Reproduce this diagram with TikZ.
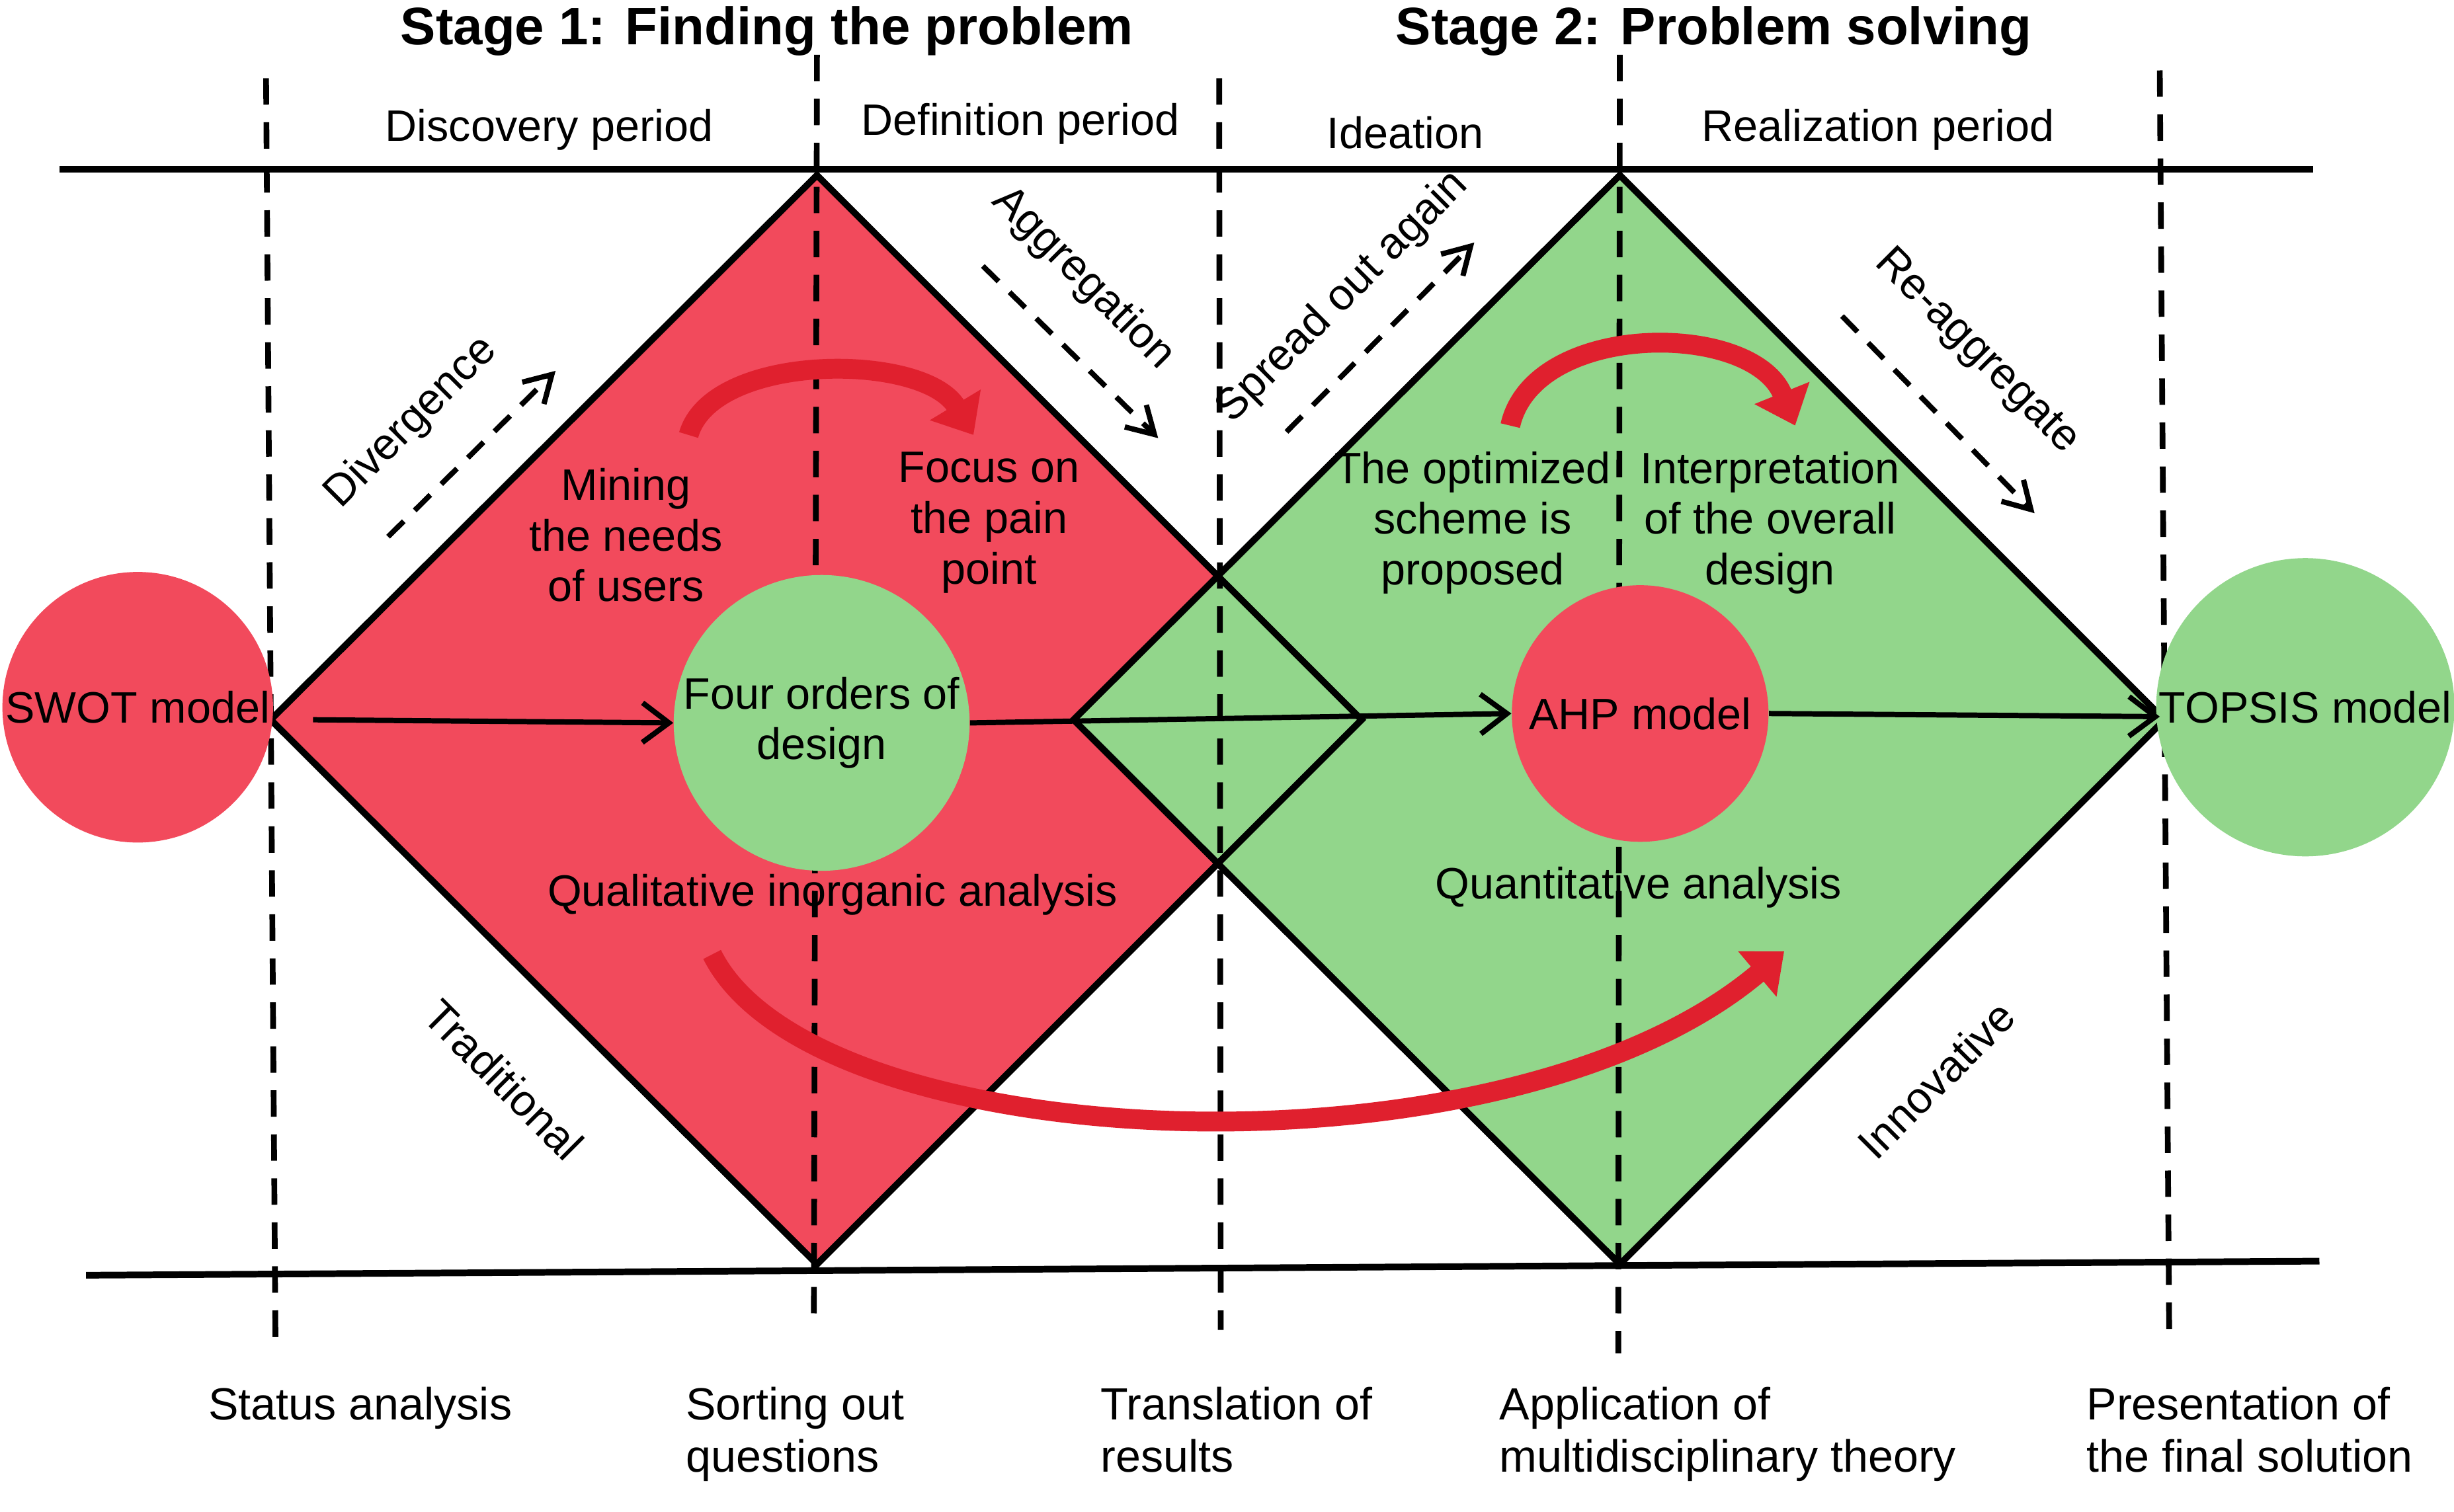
\documentclass[tikz,border=0pt]{standalone}
\usepackage{fontspec}
\setmainfont{Liberation Sans}
\usetikzlibrary{arrows.meta}
\definecolor{rd}{HTML}{F24A5C}
\definecolor{gr}{HTML}{92D68B}
\definecolor{arr}{HTML}{E0202E}
\begin{document}
\begin{tikzpicture}[x=0.025cm,y=-0.025cm,
 txt/.style={font=\fontsize{20}{23}\selectfont,align=center,inner sep=1pt},
 ttl/.style={font=\fontsize{24}{28}\selectfont\bfseries},
 bl/.style={font=\fontsize{20.5}{24}\selectfont,align=left,anchor=north west,inner sep=0pt},
 dv/.style={line width=2.6pt,dash pattern=on 12pt off 8pt},
 da/.style={line width=2.4pt,dash pattern=on 10pt off 7pt,-{Straight Barb[length=12pt,width=14pt]}},
 ar/.style={line width=2.4pt,-{Straight Barb[length=12pt,width=18pt]}},
 ca/.style={arr,line width=9pt,-{Triangle[length=16pt,width=26pt]}},
 circ/.style={circle,txt}]
\useasboundingbox (0,0) rectangle (1568,966);
% diamonds
\fill[rd] (173,460)--(522,112)--(870,460)--(522,808)--cycle;
\fill[gr] (686,460)--(1035,112)--(1383,460)--(1035,808)--cycle;
\draw[line width=3pt] (173,460)--(522,112)--(870,460)--(522,808)--cycle;
\draw[line width=3pt] (686,460)--(1035,112)--(1383,460)--(1035,808)--cycle;
% horizontal lines
\draw[line width=3pt] (38,108)--(1478,108);
\draw[line width=3pt] (55,815)--(1482,806);
% dashed verticals
\draw[dv] (170,50)--(176,855);
\draw[dv] (522,35)--(520,850);
\draw[dv] (779,50)--(780,850);
\draw[dv] (1035,35)--(1034,865);
\draw[dv] (1380,45)--(1386,850);
% circles
\node[circ,fill=rd,minimum size=166*0.025cm] (swot) at (88,452) {SWOT model};
\node[circ,fill=gr,minimum size=164*0.025cm] (four) at (525,462) {Four orders of\\design};
\node[circ,fill=rd,minimum size=164*0.025cm] (ahp) at (1048,456) {AHP model};
\node[circ,fill=gr,minimum size=174*0.025cm] (topsis) at (1473,452) {TOPSIS model};
\coordinate (r) at (1380,458);
\draw[ar] (200,460)--(four.west);
\draw[ar] (four.east)--(ahp.west);
\draw[ar] (ahp.east)--(r);
% titles
\node[ttl] (t1) at (490,20) {Stage 1: Finding the problem};
\node[ttl] (t2) at (1095,20) {Stage 2: Problem solving};
\node[txt] (p1) at (351,83) {Discovery period};
\node[txt] (p2) at (652,79) {Definition period};
\node[txt] (p3) at (898,85) {Ideation};
\node[txt] (p4) at (1200,83) {Realization period};
% dashed arrows
\draw[da] (248,343)--(355,237);
\draw[da] (628,170)--(740,280);
\draw[da] (822,276)--(942,155);
\draw[da] (1177,202)--(1300,328);
\node[txt,rotate=45] (dg) at (263,270) {Divergence};
\node[txt,rotate=-45] (ag) at (692,178) {Aggregation};
\node[txt,rotate=45] (so) at (858,190) {Spread out again};
\node[txt,rotate=-45] (ra) at (1263,225) {Re-aggregate};
\node[txt,rotate=-45] (tr) at (322,690) {Traditional};
\node[txt,rotate=45] (in) at (1237,690) {Innovative};
% inner texts
\node[txt] (m) at (400,342) {Mining\\the needs\\of users};
\node[txt] (f) at (632,334) {Focus on\\the pain\\point};
\node[txt] (o) at (941,334) {The optimized\\scheme is\\proposed};
\node[txt] (i) at (1131,334) {Interpretation\\of the overall\\design};
\node[txt] (q1) at (532,572) {Qualitative inorganic analysis};
\node[txt] (q2) at (1047,567) {Quantitative analysis};
% curved arrows
\draw[ca] (440,278) .. controls (455,225) and (590,225) .. (622,278);
\draw[ca] (965,272) .. controls (980,205) and (1120,205) .. (1147,272);
\draw[ca] (455,610) .. controls (520,740) and (960,760) .. (1140,608);
% bottom
\node[bl] (b1) at (133,886) {Status analysis};
\node[bl] (b2) at (438,886) {Sorting out\\questions};
\node[bl] (b3) at (703,886) {Translation of\\results};
\node[bl] (b4) at (958,886) {Application of\\multidisciplinary theory};
\node[bl] (b5) at (1333,886) {Presentation of\\the final solution};
\end{tikzpicture}
\end{document}
